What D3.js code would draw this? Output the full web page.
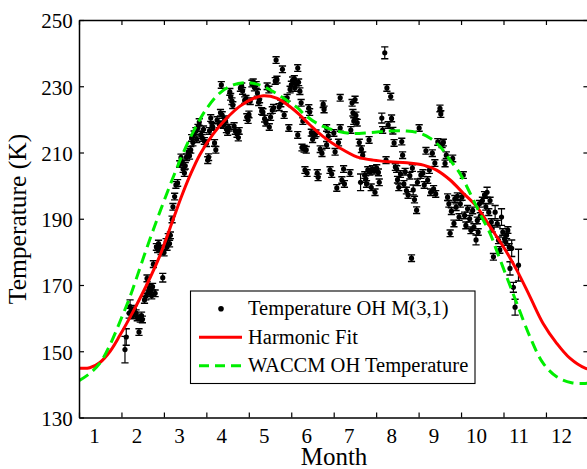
<!DOCTYPE html>
<html>
<head>
<meta charset="utf-8">
<script src="https://cdn.jsdelivr.net/npm/d3@7"></script>
<style>
  html, body { margin: 0; padding: 0; background: #fff; }
  svg { display: block; }
  text { font-family: "Liberation Serif", "Times New Roman", serif; fill: #000; }
</style>
</head>
<body>
<svg id="chart" width="587" height="469"></svg>
<script>
// Observed OH M(3,1) rotational temperatures: [month, temperature K, 1-sigma error K]
const obsPoints = [
  [1.73,150.5,4.0],[1.76,154.3,2.5],[1.83,161.5,1.5],[1.85,163.5,2.0],[1.88,162.2,1],[1.92,160.8,1],
  [1.95,162.8,1],[1.99,161.5,1],[2.02,160.2,1],[2.06,155.8,1],[2.09,159.8,1],[2.12,160.8,1],
  [2.14,159.6,1],[2.19,165.5,1],[2.22,166.5,1],
  [2.25,172.0,1],[2.27,167.5,1],[2.3,169.2,1],[2.33,168.2,1],[2.36,166.8,1],[2.38,169.5,1],
  [2.4,176.3,1],[2.44,167.5,1],[2.47,181.5,1],[2.5,180.8,1],[2.52,182.5,1],[2.55,181.0,1],
  [2.58,180.2,1],[2.62,172.2,1.3],[2.65,179.8,1],[2.7,183.0,1],[2.72,181.5,1],[2.75,184.5,1],
  [2.78,182.5,1],[2.8,185.0,1],[2.84,189.8,1],[2.86,193.6,1],[2.9,196.7,1],[2.93,200.2,1],[2.97,200.8,1],
  [3.02,206.5,1],[3.05,208.5,1],[3.08,207.0,1],[3.1,205.0,1],[3.13,203.8,1],[3.15,206.0,1],
  [3.18,208.6,1],[3.22,210.2,1],[3.25,209.0,1],[3.28,210.8,1],[3.3,214.4,1],[3.33,213.0,1],
  [3.36,215.5,1],[3.4,216.5,1],[3.42,214.0,1],[3.45,217.5,1],[3.48,219.2,1],[3.52,215.3,1],
  [3.55,214.4,1],[3.58,217.0,1],[3.6,213.5,1],[3.65,212.8,1],[3.68,207.7,1],[3.7,208.6,1],
  [3.72,216.5,1],[3.75,220.4,1],[3.78,218.0,1],[3.8,217.7,1],[3.84,212.9,1],[3.87,210.8,1],
  [3.9,219.8,1],[3.95,218.5,1],[3.98,222.0,1],[4.0,230.4,1],[4.02,221.3,1],[4.05,218.3,1],
  [4.08,220.0,1],[4.1,219.5,1],[4.12,217.0,1],[4.15,216.2,1],[4.18,217.5,1],[4.2,228.3,1],
  [4.22,226.8,1],[4.25,225.5,1],[4.27,224.3,1],[4.3,218.0,1],[4.33,216.5,1],[4.37,215.6,1],
  [4.4,214.5,1],[4.42,216.5,1],[4.45,229.5,1],[4.48,230.0,1],[4.5,228.6,1],
  [4.55,225.8,1],[4.58,226.2,1],[4.6,220.7,1],[4.63,219.8,1],[4.65,221.5,1],[4.68,225.5,1],
  [4.72,230.8,1],[4.75,231.2,1],[4.78,229.6,1],[4.82,230.4,1],[4.85,228.0,1],[4.88,225.2,1],
  [4.9,226.0,1],[4.95,222.5,1],[4.98,222.2,1],[5.02,220.2,1],[5.05,219.0,1],[5.08,230.0,1],
  [5.12,229.0,1],[5.13,217.7,1],[5.16,220.7,1],[5.2,222.8,1],[5.23,223.5,1],
  [5.27,231.6,1],[5.29,237.9,1],[5.31,232.0,1],[5.36,223.7,1],[5.4,224.8,1],[5.44,235.1,1],
  [5.48,221.3,1],[5.5,225.8,1],[5.55,226.5,1],[5.59,217.4,1],[5.62,229.0,1],[5.65,230.5,1],
  [5.68,231.8,1],[5.72,232.2,1],[5.73,229.5,1],[5.76,230.8,1],[5.8,235.5,1],[5.8,215.3,1],
  [5.82,231.2,1],[5.85,228.5,1],[5.88,225.0,1],
  [5.92,219.5,1],[5.9,211.5,1],[5.95,211.1,1],[5.97,204.7,1],[6.0,210.8,1],[6.02,203.8,1],
  [6.06,223.4,1],[6.08,222.2,1],[6.12,216.0,1],[6.15,214.0,1],[6.2,215.3,1],[6.23,215.8,1],
  [6.26,203.8,1],[6.28,202.5,1],[6.33,211.0,1],[6.37,209.8,1],[6.4,224.6,1],[6.42,223.0,1],
  [6.48,217.4,1],[6.48,212.3,1],[6.52,215.0,1],[6.56,204.7,1],[6.6,203.5,1],[6.65,215.9,1],
  [6.68,210.2,1],[6.72,199.3,1],[6.76,213.0,1],[6.8,226.5,1],[6.8,217.4,1],[6.84,201.7,1],
  [6.88,205.0,1],[6.9,200.5,1],
  [7.03,203.8,1],[7.05,216.8,1],[7.08,225.0,1],[7.1,222.0,1],[7.12,219.5,1],[7.15,226.0,1],
  [7.17,221.2,1],[7.2,219.0,1],[7.25,213.0,1],[7.28,201.0,2.5],[7.3,211.0,1],[7.33,209.2,1],
  [7.38,203.2,1],[7.4,202.0,1],[7.42,200.5,1],[7.45,204.7,1],[7.48,213.8,1],[7.5,204.2,1],
  [7.53,199.5,1],[7.56,205.0,1],[7.6,204.5,1],[7.62,198.0,1],[7.66,205.3,1],[7.7,204.0,1],
  [7.72,201.0,1],[7.78,220.4,1.5],[7.8,216.8,1],[7.85,240.1,1.8],[7.88,207.7,1],[7.9,229.5,1],
  [7.93,218.3,1],[7.99,226.9,1],[8.01,220.3,1],[8.04,216.6,1],[8.07,212.9,1],[8.1,205.6,1],
  [8.13,205.0,1],[8.15,201.8,1],[8.18,199.5,1],[8.22,203.5,1],[8.25,213.3,1],[8.27,209.2,1],
  [8.3,200.5,1],[8.33,204.2,1],[8.36,198.5,1],[8.4,197.2,1],[8.44,203.0,1],[8.48,178.1,1],
  [8.5,205.3,1],[8.52,198.7,1.5],[8.55,195.8,1],[8.6,192.6,1],[8.62,201.0,1],[8.66,217.4,1],
  [8.7,203.2,1],[8.75,203.8,1],[8.78,200.2,1],[8.82,210.5,1],[8.86,201.7,1],[8.9,204.7,1],
  [8.93,198.0,1],[8.97,209.8,1],[9.0,199.0,1],[9.03,206.8,1],
  [9.05,197.5,1],[9.1,213.2,1],[9.15,223.3,1],[9.17,221.6,1],[9.2,212.5,1],[9.23,213.0,1],
  [9.27,206.7,1],[9.3,209.2,1],[9.33,196.5,1],[9.36,194.5,1],[9.39,185.6,1],[9.42,192.3,1],
  [9.45,208.2,1],[9.48,188.6,1],[9.5,196.0,1],[9.53,193.5,1],[9.56,196.8,1],[9.6,190.5,1],
  [9.63,194.5,1],[9.67,196.6,1],[9.7,203.2,1],[9.73,191.0,1],[9.76,188.0,1],[9.8,193.0,1],
  [9.85,190.0,1],[9.88,186.5,1],[9.92,192.5,1],[9.95,187.5,1],[10.0,183.6,1.5],[10.03,189.5,1],
  [10.05,186.0,1],[10.08,194.5,1],[10.1,190.8,1],[10.15,195.5,1],[10.2,197.2,1],[10.23,193.6,1],
  [10.26,198.0,1.5],[10.3,192.0,1],[10.33,195.5,1],[10.36,189.0,1],[10.38,187.0,1],[10.41,178.5,1],
  [10.45,192.0,2],[10.5,188.5,1],[10.53,183.5,1],[10.56,180.6,1],[10.6,190.5,2.5],[10.63,186.0,1],
  [10.67,184.0,1],[10.7,183.0,1],[10.72,185.0,1],[10.75,186.6,1],[10.78,181.5,1],[10.8,175.0,2],
  [10.84,181.1,2.5],[10.88,169.3,1.5],[10.92,163.3,2.4],[11.0,176.0,4.8]
];

// Harmonic fit through the observations
const fitMonth = [0.647,0.9,1.14,1.38,1.61,1.93,2.24,2.55,2.87,3.07,3.26,3.5,3.81,4.13,4.44,4.75,4.99,
  5.3,5.62,5.85,6.09,6.4,6.8,7.19,7.58,7.97,8.37,8.76,9.07,9.39,9.7,10.02,10.33,10.64,10.96,11.27,
  11.58,11.9,12.21,12.57,12.7];
const fitTemp = [144.9,145.0,146.6,150.0,154.8,162.2,170.0,178.8,190.0,197.0,203.0,209.5,215.6,220.4,
  224.0,226.3,227.1,226.4,223.8,221.3,218.3,214.8,211.3,208.7,207.7,207.2,206.9,206.2,204.7,201.7,
  197.7,193.6,187.6,181.6,174.5,166.5,158.4,152.4,147.9,144.9,144.6];

// WACCM model OH-layer temperature
const waccmMonth = [0.647,0.9,1.14,1.38,1.63,1.85,2.0,2.18,2.35,2.55,2.87,3.1,3.34,3.65,3.97,4.28,4.6,
  4.9,5.22,5.54,5.81,5.93,6.25,6.64,7.03,7.5,7.97,8.37,8.68,8.92,9.15,9.39,9.62,9.86,10.09,10.33,
  10.48,10.72,10.96,11.27,11.58,11.9,12.25,12.57,12.7];
const waccmTemp = [141.1,143.3,146.4,152.0,159.5,166.5,172.0,178.8,185.0,192.0,202.7,209.8,216.3,223.2,
  228.0,230.4,231.1,230.4,228.4,225.8,223.3,221.8,218.8,216.8,215.8,216.0,216.5,216.5,215.8,214.3,
  211.8,207.7,203.7,197.7,191.6,185.6,180.6,172.5,164.5,154.4,146.4,142.3,140.5,140.3,140.4];

const monthLabels = ["1","2","3","4","5","6","7","8","9","10","11","12"];
const yTicks = [130,150,170,190,210,230,250];

const svg = d3.select("#chart");
const plotLeft = 79, plotRight = 588.4, plotTop = 20, plotBottom = 417.5;

const x = d3.scaleLinear().domain([0.647, 12.647]).range([plotLeft, plotRight]);
const y = d3.scaleLinear().domain([130, 250]).range([plotBottom, plotTop]);

// month tick marks sit at month boundaries, labels at the months
const tickPos = d3.range(13).map(k => 0.647 + k);
const labelPos = monthLabels.map((d, i) => i + 1);

svg.append("defs").append("clipPath").attr("id", "plotclip")
  .append("rect").attr("x", plotLeft).attr("y", plotTop)
  .attr("width", plotRight - plotLeft).attr("height", plotBottom - plotTop);

// Observations with error bars
const obs = svg.append("g").attr("clip-path", "url(#plotclip)");
const pts = obs.selectAll("g.pt").data(obsPoints).join("g").attr("class", "pt");
pts.append("line")
  .attr("x1", d => x(d[0])).attr("x2", d => x(d[0]))
  .attr("y1", d => y(d[1] - d[2])).attr("y2", d => y(d[1] + d[2]))
  .attr("stroke", "#000").attr("stroke-width", 1.2);
pts.append("line")
  .attr("x1", d => x(d[0]) - 3.6).attr("x2", d => x(d[0]) + 3.6)
  .attr("y1", d => y(d[1] - d[2])).attr("y2", d => y(d[1] - d[2]))
  .attr("stroke", "#000").attr("stroke-width", 1.4);
pts.append("line")
  .attr("x1", d => x(d[0]) - 3.6).attr("x2", d => x(d[0]) + 3.6)
  .attr("y1", d => y(d[1] + d[2])).attr("y2", d => y(d[1] + d[2]))
  .attr("stroke", "#000").attr("stroke-width", 1.4);
pts.append("circle")
  .attr("cx", d => x(d[0])).attr("cy", d => y(d[1])).attr("r", 2.6).attr("fill", "#000");

// Curves
const line = d3.line().x(d => x(d[0])).y(d => y(d[1])).curve(d3.curveCatmullRom.alpha(0.5));
const curves = svg.append("g").attr("clip-path", "url(#plotclip)");
curves.append("path")
  .datum(fitMonth.map((m, i) => [m, fitTemp[i]]))
  .attr("d", line).attr("fill", "none").attr("stroke", "#ff0000").attr("stroke-width", 3);
curves.append("path")
  .datum(waccmMonth.map((m, i) => [m, waccmTemp[i]]))
  .attr("d", line).attr("fill", "none").attr("stroke", "#00ee00").attr("stroke-width", 3)
  .attr("stroke-dasharray", "11,6");

// Axes
const axisStyle = g => {
  g.selectAll("path.domain").attr("stroke", "#000").attr("stroke-width", 1.5);
  g.selectAll(".tick line").attr("stroke", "#000").attr("stroke-width", 1.2);
};
svg.append("g").attr("transform", `translate(0,${plotBottom})`)
  .call(d3.axisBottom(x).tickValues(tickPos).tickFormat("").tickSizeInner(-5).tickSizeOuter(0))
  .call(axisStyle);
svg.append("g").attr("transform", `translate(0,${plotTop})`)
  .call(d3.axisTop(x).tickValues(tickPos).tickFormat("").tickSizeInner(-5).tickSizeOuter(0))
  .call(axisStyle);
svg.append("g").attr("transform", `translate(${plotLeft},0)`)
  .call(d3.axisLeft(y).tickValues(yTicks).tickSizeInner(-5).tickSizeOuter(0).tickPadding(6.3))
  .call(axisStyle)
  .call(g => g.selectAll(".tick text").attr("font-size", 21).attr("dy", "0.38em")
    .attr("font-family", "Liberation Serif, Times New Roman, serif"));
svg.append("g").attr("transform", `translate(${plotRight},0)`)
  .call(d3.axisRight(y).tickValues(yTicks).tickFormat("").tickSizeInner(-5).tickSizeOuter(0))
  .call(axisStyle);

// Month labels
const xl = svg.append("g").attr("transform", `translate(0,${plotBottom})`)
  .call(d3.axisBottom(x).tickValues(labelPos).tickFormat((d, i) => monthLabels[i]).tickSize(0).tickPadding(0));
xl.select("path.domain").remove();
xl.selectAll(".tick text").attr("font-size", 21).attr("y", 25).attr("dy", 0)
  .attr("font-family", "Liberation Serif, Times New Roman, serif");

// Axis titles
svg.append("text").attr("x", 334).attr("y", 464.5).attr("text-anchor", "middle")
  .attr("font-size", 25).text("Month");
svg.append("text").attr("transform", "translate(26,219) rotate(-90)").attr("text-anchor", "middle")
  .attr("font-size", 25.5).text("Temperature (K)");

// Legend
const lg = svg.append("g");
lg.append("rect").attr("x", 190.5).attr("y", 291).attr("width", 284.5).attr("height", 92.5)
  .attr("fill", "#fff").attr("stroke", "#000").attr("stroke-width", 1.1);
const rowY = [315.2, 343.5, 371.8];
lg.append("circle").attr("cx", 221).attr("cy", 308.7).attr("r", 2.8).attr("fill", "#000");
lg.append("line").attr("x1", 199).attr("x2", 242).attr("y1", 337.3).attr("y2", 337.3)
  .attr("stroke", "#ff0000").attr("stroke-width", 3);
lg.append("line").attr("x1", 199).attr("x2", 242).attr("y1", 365.7).attr("y2", 365.7)
  .attr("stroke", "#00ee00").attr("stroke-width", 3).attr("stroke-dasharray", "10,6");
const legendText = ["Temperature OH M(3,1)", "Harmonic Fit", "WACCM OH Temperature"];
lg.selectAll("text.lt").data(legendText).join("text").attr("class", "lt")
  .attr("x", 248).attr("y", (d, i) => rowY[i]).attr("font-size", 20.5).text(d => d);
</script>
</body>
</html>
